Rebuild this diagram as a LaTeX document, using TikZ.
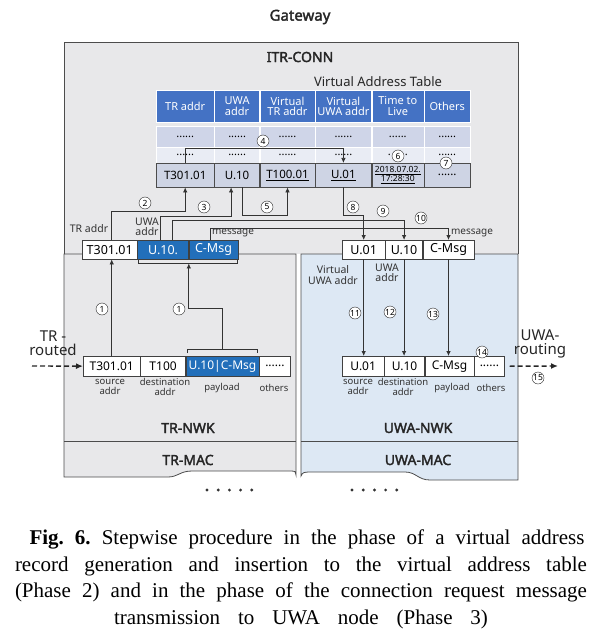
\documentclass[tikz,border=0pt]{standalone}
\usepackage{fontspec}
\setmainfont{Noto Sans}[BoldFont={Noto Sans}, BoldFeatures={FakeBold=2.2}]
\newfontfamily\capfont{Liberation Serif}
\usetikzlibrary{arrows.meta,calc}

\definecolor{gwgray}{RGB}{232,232,234}
\definecolor{uwablue}{RGB}{221,232,244}
\definecolor{tblue}{RGB}{68,114,196}
\definecolor{rowA}{RGB}{207,213,232}
\definecolor{rowB}{RGB}{233,236,244}
\definecolor{rowC}{RGB}{206,212,228}
\definecolor{msgblue}{RGB}{34,111,186}

\tikzset{
  ttl/.style={font=\bfseries\fontsize{14}{14}\selectfont, text=black!85},
  frame/.style={draw=black!70, line width=0.8pt},
  hcell/.style={anchor=north west, inner sep=0pt, minimum height=32, fill=tblue, draw=white, text=white, align=center, font=\fontsize{11}{10.5}\selectfont},
  dcellA/.style={anchor=north west, inner sep=0pt, minimum height=21, fill=rowA, draw=white, font=\fontsize{11}{11}\selectfont},
  dcellB/.style={anchor=north west, inner sep=0pt, minimum height=16, fill=rowB, draw=white, font=\fontsize{11}{11}\selectfont},
  ncell/.style={anchor=north west, inner sep=0pt, minimum height=24, fill=rowC, draw=black!70, align=center, font=\fontsize{11.5}{11.5}\selectfont},
  mbox/.style={anchor=north west, inner sep=0pt, minimum height=19, draw=black!75, fill=white, font=\fontsize{12.5}{12.5}\selectfont},
  mblue/.style={mbox, fill=msgblue, text=white},
  pbox/.style={anchor=north west, inner sep=0pt, minimum height=20, draw=black!75, fill=white, font=\fontsize{12}{12}\selectfont},
  lbl/.style={align=center, inner sep=0pt, text=black!80, font=\fontsize{9.5}{9.5}\selectfont},
  num/.style={circle, draw=black!85, fill=white, inner sep=0pt, minimum size=12, font=\fontsize{8.5}{8.5}\selectfont},
  wire/.style={draw=black!80, line width=0.75pt},
  conn/.style={wire, -{Latex[length=5pt,width=4.5pt]}},
  route/.style={draw=black!85, line width=1.4pt, dash pattern=on 5pt off 3pt, -{Latex[length=7pt,width=6pt]}},
}

\begin{document}
\begin{tikzpicture}[x=1pt,y=-1pt]
        \useasboundingbox (0,0) rectangle (604,644);

        % layers
        \fill[gwgray] (64,42) rectangle (518,254);
        \draw[frame] (64,254) -- (64,42) -- (518,42) -- (518,254);
        \filldraw[frame, fill=gwgray] (64,254) -- (64,477) -- (168,477) .. controls (178,477) and (180,471) .. (192,471) -- (292,471) .. controls (295,471) .. (296,475) -- (296,254) -- cycle;
        \filldraw[frame, fill=uwablue] (301,254) -- (301,476) .. controls (303,472) .. (314,472) -- (405,472) .. controls (416,472) and (418,480) .. (430,480) -- (518,480) -- (518,254) -- cycle;
        \draw[frame] (64,441) -- (296,441);
        \draw[frame] (301,441) -- (518,441);

        % place nodes
        \node[ttl, font=\bfseries\fontsize{15}{15}\selectfont] (gw) at (300,17) {Gateway};
        \node[ttl] (itr) at (300,57) {ITR-CONN};
        \node[ttl] (trnwk) at (188,428) {TR-NWK};
        \node[ttl] (trmac) at (188,460) {TR-MAC};
        \node[ttl] (uwanwk) at (418,428) {UWA-NWK};
        \node[ttl] (uwamac) at (418,460) {UWA-MAC};
        \node[text=black!85, font=\fontsize{13}{13}\selectfont] (vat) at (378,82) {Virtual Address Table};

        % virtual address table
        \node[hcell, minimum width=58] (hTR) at (156,90) {TR addr};
        \node[hcell, minimum width=45] (hUWA) at (hTR.north east) {UWA\\addr};
        \node[hcell, minimum width=55] (hVT) at (hUWA.north east) {Virtual\\TR addr};
        \node[hcell, minimum width=56] (hVU) at (hVT.north east) {Virtual\\UWA addr};
        \node[hcell, minimum width=52] (hTime) at (hVU.north east) {Time to\\Live};
        \node[hcell, minimum width=46] (hOth) at (hTime.north east) {Others};

        \node[dcellA, minimum width=58] (aTR) at (156,126) {......};
        \node[dcellA, minimum width=45] (aUWA) at (aTR.north east) {......};
        \node[dcellA, minimum width=55] (aVT) at (aUWA.north east) {......};
        \node[dcellA, minimum width=56] (aVU) at (aVT.north east) {......};
        \node[dcellA, minimum width=52] (aTime) at (aVU.north east) {......};
        \node[dcellA, minimum width=46] (aOth) at (aTime.north east) {......};

        \node[dcellB, minimum width=58] (bTR) at (156,147) {......};
        \node[dcellB, minimum width=45] (bUWA) at (bTR.north east) {......};
        \node[dcellB, minimum width=55] (bVT) at (bUWA.north east) {......};
        \node[dcellB, minimum width=56] (bVU) at (bVT.north east) {......};
        \node[dcellB, minimum width=52] (bTime) at (bVU.north east) {.\hspace{14pt}.};
        \node[dcellB, minimum width=46] (bOth) at (bTime.north east) {......};

        \node[ncell, minimum width=58] (rT) at (156,163) {T301.01};
        \node[ncell, minimum width=45] (rU) at (rT.north east) {U.10};
        \node[ncell, minimum width=55] (rVT) at (rU.north east) {\underline{T100.01}};
        \node[ncell, minimum width=56] (rVU) at (rVT.north east) {\underline{U.01}};
        \node[ncell, minimum width=52, font=\fontsize{8.5}{9.5}\selectfont] (rTime) at (rVU.north east) {\underline{2018.07.02.}\\\underline{17:28:30}};
        \node[ncell, minimum width=46] (rOth) at (rTime.north east) {......};

        % message at ITR-CONN
        \node[mbox, minimum width=55] (mT) at (82,240) {T301.01};
        \node[mblue, minimum width=51] (mU) at (mT.north east) {U.10.};
        \node[mblue, minimum width=49] (mC) at (mU.north east) {C-Msg};
        \node[lbl, font=\fontsize{10.5}{10.5}\selectfont] (lTR) at (89,229) {TR addr};
        \node[lbl, font=\fontsize{10.5}{10.5}\selectfont] (lUWA) at (147,227) {UWA\\addr};
        \node[lbl, font=\fontsize{10}{10}\selectfont] (lMsg) at (233,233) {message};

        \node[mbox, minimum width=43] (nU1) at (342,240) {U.01};
        \node[mbox, minimum width=37] (nU2) at (nU1.north east) {U.10};
        \node[mbox, minimum width=51] (nC) at (nU2.north east) {C-Msg};
        \node[lbl, font=\fontsize{10}{10}\selectfont] (rMsg) at (472,233) {message};
        \node[lbl, font=\fontsize{10.5}{10.5}\selectfont] (lVU) at (333,275) {Virtual\\UWA addr};
        \node[lbl, font=\fontsize{10.5}{10.5}\selectfont] (lUWA2) at (387,273) {UWA\\addr};

        % packets at NWK layers
        \node[pbox, minimum width=57] (pT1) at (83,356) {T301.01};
        \node[pbox, minimum width=45] (pT2) at (pT1.north east) {T100};
        \node[pbox, minimum width=73, fill=msgblue, text=white] (pPay) at (pT2.north east) {U.10|C-Msg};
        \node[pbox, minimum width=31] (pOth) at (pPay.north east) {......};
        \node[lbl] (pl1) at (110,387) {source\\addr};
        \node[lbl] (pl2) at (165,387) {destination\\addr};
        \node[lbl] (pl3) at (222,388) {payload};
        \node[lbl] (pl4) at (274,388) {others};

        \node[pbox, minimum width=42] (qU1) at (342,356) {U.01};
        \node[pbox, minimum width=40] (qU2) at (qU1.north east) {U.10};
        \node[pbox, minimum width=49] (qC) at (qU2.north east) {C-Msg};
        \node[pbox, minimum width=30] (qOth) at (qC.north east) {......};
        \node[lbl] (ql1) at (358,387) {source\\addr};
        \node[lbl] (ql2) at (403,387) {destination\\addr};
        \node[lbl] (ql3) at (452,388) {payload};
        \node[lbl] (ql4) at (491,388) {others};

        \node[align=center, text=black!85, font=\fontsize{15}{13.5}\selectfont] (trr) at (53,343) {TR -\\routed};
        \node[align=center, text=black!85, font=\fontsize{15}{13.5}\selectfont] (uwar) at (540,344) {UWA-\\routing};
        \coordinate (trIn) at (32,366);
        \coordinate (uwaOut) at (558,366);

        % brackets over payload
        \draw[wire] ($(pPay.north west)+(2,-3)$) -- ++(0,-4) -| ($(pPay.north east)+(-2,-3)$);
        \coordinate (payTip) at ($(pPay.north)+(0,-7)$);
        \draw[wire] ($(mU.south west)+(1,1)$) -- ++(0,3) -| ($(mC.south east)+(-1,1)$);
        \coordinate (msgTip) at ($(mU.south east)+(0,4)$);

        % draw edges
        \draw[route] (trIn) -- (pT1);
        \draw[route] ($(qOth.east)+(5,0)$) -- (uwaOut);
        \draw[conn] (pT1.north) -- (pT1.north |- mT.south);
        \draw[conn] (payTip) -- ++(0,-41) -| (msgTip);
        \draw[conn] ($(mT.north)+(2,0)$) -- ++(0,-29) -| (rT.south);
        \draw[conn] ($(mU.north)+(-2.5,0)$) -- ++(0,-24) -| ($(rU.south)+(-6,0)$);
        \draw[conn] (rT.north) -- ++(0,-15) -| (rVU.north);
        \draw[conn] ($(rU.south)+(5,0)$) -- ++(0,28) -| (rVT.south);
        \draw[conn] (rVU.south) -- ++(0,28) -| (nU1.north);
        \draw[conn] ($(mU.north)+(9.5,0)$) -- ++(0,-20) -| (nU2.north);
        \draw[conn] ($(mC.north)+(-3.5,0)$) -- ++(0,-12) -| (nC.north);
        \draw[conn] (nU1.south) -- (nU1.south |- qU1.north);
        \draw[conn] (nU2.south) -- (nU2.south |- qU2.north);
        \draw[conn] (nC.south) -- (nC.south |- qC.north);

        % step numbers
        \node[num] (s1a) at (102,309) {1};
        \node[num] (s1b) at (179,309) {1};
        \node[num] (s2) at (145,203) {2};
        \node[num] (s3) at (204,207) {3};
        \node[num] (s4) at (263,141) {4};
        \node[num] (s5) at (267,207) {5};
        \node[num] (s6) at (398,156) {6};
        \node[num] (s7) at (446,163) {7};
        \node[num] (s8) at (353,207) {8};
        \node[num] (s9) at (383,211) {9};
        \node[num] (s10) at (421,218) {10};
        \node[num] (s11) at (355,313) {11};
        \node[num] (s12) at (390,312) {12};
        \node[num] (s13) at (433,314) {13};
        \node[num] (s14) at (482,352) {14};
        \node[num] (s15) at (538,378) {15};

        % more layers below
        \foreach \i in {0,...,4} {
            \fill[black!80] (207+\i*11.2,490) circle (1.6);
            \fill[black!80] (352+\i*11.2,490) circle (1.6);
        }

        % caption
        \node[anchor=north, align=center, inner sep=0pt, font=\capfont\fontsize{21}{26.5}\selectfont\frenchspacing] (cap) at (301,530)
            {\makebox[567pt][s]{\hspace{12pt}\textbf{Fig. 6.} Stepwise procedure in the phase of a virtual address}\\
             \makebox[572pt][s]{record generation and insertion to the virtual address table}\\
             \makebox[572pt][s]{(Phase 2) and in the phase of the connection request message}\\
             {\spaceskip=0.85em\relax transmission to UWA node (Phase 3)}};
    \end{tikzpicture}
\end{document}
